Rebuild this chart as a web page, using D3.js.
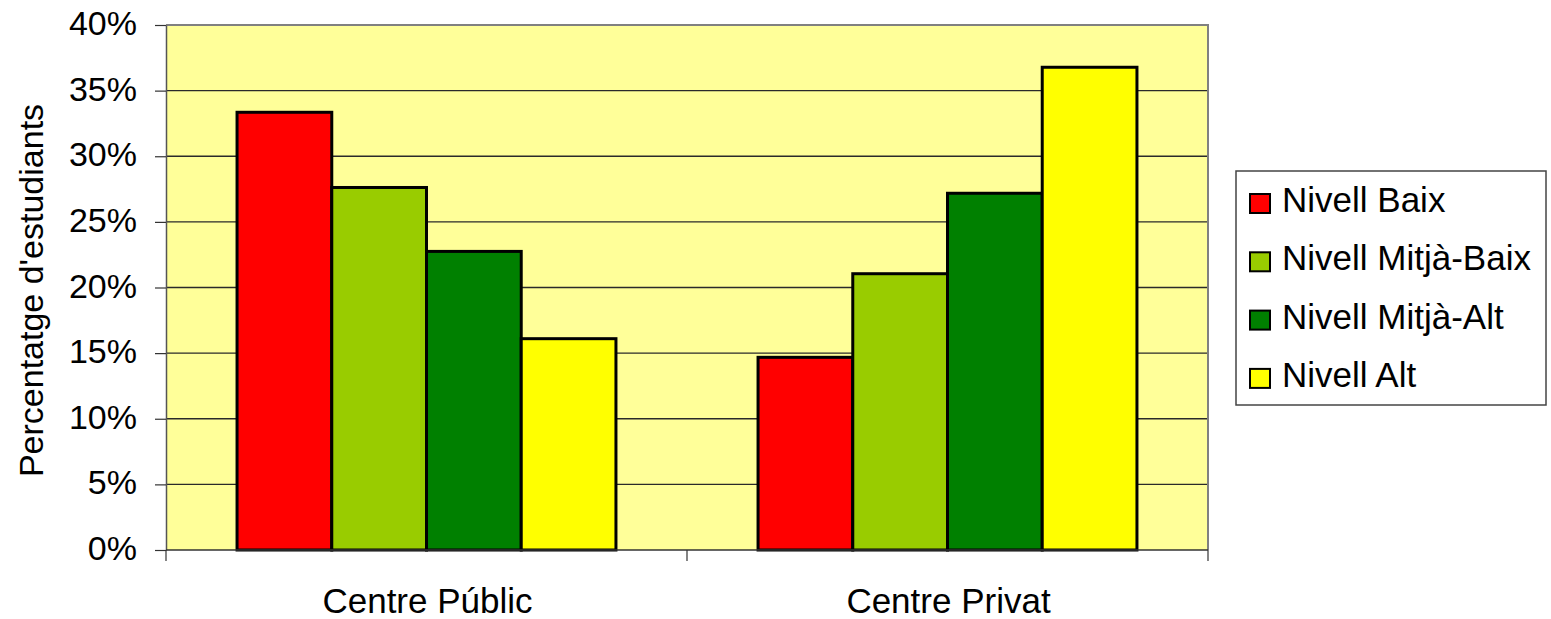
<!DOCTYPE html>
<html>
<head>
<meta charset="utf-8">
<script src="https://cdn.jsdelivr.net/npm/d3@7"></script>
<style>
  body { margin: 0; background: #fff; }
  svg { display: block; }
  text { font-family: "Liberation Sans", Arial, sans-serif; fill: #000; }
</style>
</head>
<body>
<svg></svg>
<script>
const categories = ["Centre Públic", "Centre Privat"]
const seriesNames = ["Nivell Baix", "Nivell Mitjà-Baix", "Nivell Mitjà-Alt", "Nivell Alt"]
const seriesColors = ["#ff0000", "#99cc00", "#008000", "#ffff00"]
const publicValues = [0.3335, 0.2762, 0.2275, 0.1610]
const privateValues = [0.1468, 0.2105, 0.2718, 0.3678]
const yTicks = [0, 0.05, 0.10, 0.15, 0.20, 0.25, 0.30, 0.35, 0.40]

const width = 1551, height = 619
const margin = { top: 25, right: 343, bottom: 69, left: 166 }
const plotW = width - margin.left - margin.right
const plotH = height - margin.top - margin.bottom

const svg = d3.select('svg')
    .attr('width', width)
    .attr('height', height)

const chart = svg.append('g')
    .attr('transform', `translate(${margin.left},${margin.top})`)

const rows = categories.map((c, i) => ({
    category: c,
    values: (i === 0 ? publicValues : privateValues)
}))

const x0 = d3.scaleBand()
    .domain(categories)
    .range([0, plotW])

const x1 = d3.scaleBand()
    .domain(seriesNames)
    .range([0, x0.bandwidth()])
    .paddingInner(0)
    .paddingOuter(0.75)

const y = d3.scaleLinear()
    .domain([0, 0.4])
    .range([plotH, 0])

const color = d3.scaleOrdinal().domain(seriesNames).range(seriesColors)

// plot background
chart.append('rect')
    .attr('width', plotW)
    .attr('height', plotH)
    .attr('fill', '#ffff99')

// gridlines
chart.append('g')
    .selectAll('line')
    .data(yTicks.filter(t => t > 0 && t < 0.4))
    .enter()
    .append('line')
    .attr('x1', 0)
    .attr('x2', plotW)
    .attr('y1', d => y(d))
    .attr('y2', d => y(d))
    .attr('stroke', '#2a2a2a')
    .attr('stroke-width', 1.3)

// top and right border
chart.append('path')
    .attr('d', `M0,0H${plotW}V${plotH}`)
    .attr('fill', 'none')
    .attr('stroke', '#808080')
    .attr('stroke-width', 2)

// bars
const groups = chart.selectAll('.group')
    .data(rows)
    .enter()
    .append('g')
    .attr('class', 'group')
    .attr('transform', d => `translate(${x0(d.category)},0)`)

groups.selectAll('rect')
    .data(d => d.values.map((v, i) => ({ name: seriesNames[i], value: v })))
    .enter()
    .append('rect')
    .attr('x', d => x1(d.name))
    .attr('y', d => y(d.value))
    .attr('width', x1.bandwidth())
    .attr('height', d => plotH - y(d.value))
    .attr('fill', d => color(d.name))
    .attr('stroke', '#000')
    .attr('stroke-width', 3)

// y axis
const yAxis = chart.append('g')
    .attr('class', 'axis y')
    .call(d3.axisLeft(y).tickValues(yTicks).tickFormat(d3.format('.0%')).tickSizeOuter(0).tickSizeInner(11).tickPadding(18))
yAxis.select('.domain').attr('stroke', '#555').attr('stroke-width', 1.5)
yAxis.selectAll('.tick line').attr('stroke', '#333').attr('stroke-width', 1.2)
yAxis.selectAll('text')
    .attr('font-size', 34)
    .attr('font-family', '"Liberation Sans", Arial, sans-serif')
    .attr('dy', '0.28em')

// x axis
const xAxis = chart.append('g')
    .attr('class', 'axis x')
    .attr('transform', `translate(0,${plotH})`)
xAxis.append('line')
    .attr('x1', 0).attr('x2', plotW)
    .attr('stroke', '#333').attr('stroke-width', 1.5)
xAxis.selectAll('.xtick')
    .data([0, ...categories.map(c => x0(c) + x0.bandwidth())])
    .enter()
    .append('line')
    .attr('class', 'xtick')
    .attr('x1', d => d).attr('x2', d => d)
    .attr('y1', 0).attr('y2', 11)
    .attr('stroke', '#333').attr('stroke-width', 1.2)
xAxis.selectAll('.xlabel')
    .data(categories)
    .enter()
    .append('text')
    .attr('class', 'xlabel')
    .attr('x', d => x0(d) + x0.bandwidth() / 2 + 1)
    .attr('y', 63)
    .attr('text-anchor', 'middle')
    .attr('font-size', 35)
    .text(d => d)

// y title
svg.append('text')
    .attr('transform', `translate(43,${margin.top + plotH / 2 + 3}) rotate(-90)`)
    .attr('text-anchor', 'middle')
    .attr('font-size', 34)
    .text("Percentatge d'estudiants")

// legend
const legend = svg.append('g')
    .attr('transform', 'translate(1236,171)')
legend.append('rect')
    .attr('width', 310)
    .attr('height', 234)
    .attr('fill', '#fff')
    .attr('stroke', '#444')
    .attr('stroke-width', 1.5)

const items = legend.selectAll('.item')
    .data(seriesNames)
    .enter()
    .append('g')
    .attr('class', 'item')
    .attr('transform', (d, i) => `translate(0,${i * 58.3})`)
items.append('rect')
    .attr('x', 14).attr('y', 23)
    .attr('width', 20).attr('height', 19)
    .attr('fill', d => color(d))
    .attr('stroke', '#000')
    .attr('stroke-width', 2)
items.append('text')
    .attr('x', 46)
    .attr('y', 41)
    .attr('font-size', 35)
    .text(d => d)
</script>
</body>
</html>
